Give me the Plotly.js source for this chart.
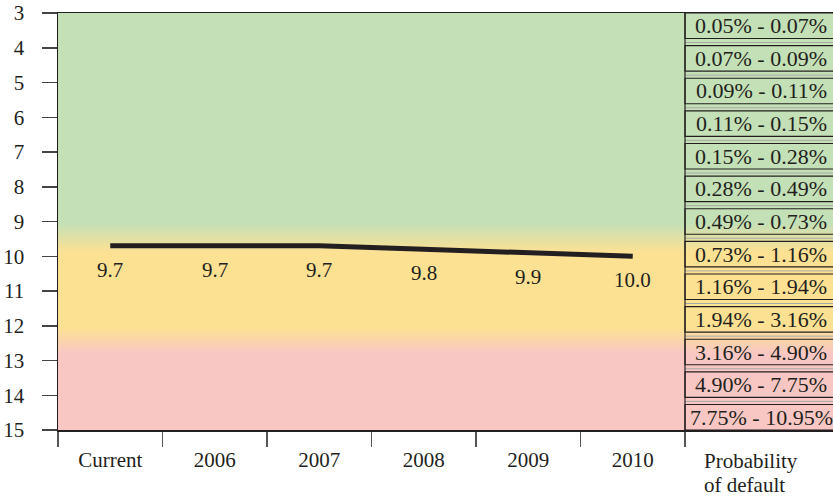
<!DOCTYPE html>
<html>
<head>
<meta charset="utf-8">
<script src="https://cdn.plot.ly/plotly-3.0.1.min.js"></script>
<style>html,body{margin:0;padding:0;background:#fff;}#chart{width:833px;height:496px;}</style>
</head>
<body>
<div id="chart"></div>
<script>
// ---- data ----
const categories = ['Current', '2006', '2007', '2008', '2009', '2010'];
const ratings = [9.7, 9.7, 9.7, 9.8, 9.9, 10.0];
const pdRanges = [
  '0.05% - 0.07%', '0.07% - 0.09%', '0.09% - 0.11%', '0.11% - 0.15%',
  '0.15% - 0.28%', '0.28% - 0.49%', '0.49% - 0.73%', '0.73% - 1.16%',
  '1.16% - 1.94%', '1.94% - 3.16%', '3.16% - 4.90%', '4.90% - 7.75%',
  '7.75% - 10.95%'
];
const pdTitle = ['Probability', 'of default'];
// background colour zones on the rating scale (band edges)
const greenEnd = 9.05, yellowStart = 9.9, yellowEnd = 12.05, pinkStart = 12.8;

// ---- style ----
const FONT = 'Liberation Serif';
const INK = '#231f20';
const GREEN = '#c4e0b7', YELLOW = '#fde193', PINK = '#f8c7c3';

const W = 833, H = 496, ML = 58, MT = 13, MB = 66;
const plotW = W - ML, plotH = H - MT - MB;
const catPx = (685 - ML) / categories.length;
const xMax = -0.5 + plotW / catPx;
const yMin = 3, yMax = 15;
const f = v => (v - yMin) / (yMax - yMin);

const bg = {
  type: 'scatter', mode: 'lines', xaxis: 'x', yaxis: 'y',
  x: [0, 1, 1, 0, 0], y: [yMin, yMin, yMax, yMax, yMin],
  fill: 'toself', line: {width: 0, color: 'rgba(0,0,0,0)'},
  fillcolor: YELLOW,
  fillgradient: {
    type: 'vertical', start: yMin, stop: yMax,
    colorscale: [[0, GREEN], [f(greenEnd), GREEN], [f(yellowStart), YELLOW],
                 [f(yellowEnd), YELLOW], [f(pinkStart), PINK], [1, PINK]]
  },
  hoverinfo: 'skip'
};

const line = {
  type: 'scatter', mode: 'lines', xaxis: 'x2', yaxis: 'y',
  x: categories, y: ratings,
  line: {color: INK, width: 5}, hoverinfo: 'skip'
};

const shapes = [];
const annotations = [];

// rating labels under the line
categories.forEach((c, i) => {
  annotations.push({
    xref: 'x2', yref: 'y', x: i, y: ratings[i], yshift: -24,
    text: ratings[i].toFixed(1), showarrow: false,
    font: {family: FONT, size: 21, color: INK}
  });
});

// probability boxes
const boxH = 25.5 / plotH;
const pitch = (1 - boxH) / (pdRanges.length - 1);
pdRanges.forEach((t, i) => {
  const top = 1 - i * pitch, bot = top - boxH;
  shapes.push({
    type: 'rect', xref: 'x2', yref: 'paper', x0: 5.5, x1: xMax + 1,
    y0: bot, y1: top, line: {color: INK, width: 1.2}, fillcolor: 'rgba(0,0,0,0)'
  });
  if (i < pdRanges.length - 1) {
    const gy = bot - 4 / plotH;
    shapes.push({
      type: 'line', xref: 'x2', yref: 'paper', x0: 5.5, x1: xMax + 1,
      y0: gy, y1: gy, line: {color: '#a8a8a8', width: 1}
    });
  }
  annotations.push({
    xref: 'paper', yref: 'paper', x: (761 - ML) / plotW, y: (top + bot) / 2,
    xanchor: 'center', yanchor: 'middle', text: t, showarrow: false,
    font: {family: FONT, size: 22, color: INK}
  });
});

// vertical separator
shapes.push({
  type: 'line', xref: 'x2', yref: 'paper', x0: 5.5, x1: 5.5, y0: 0, y1: 1,
  line: {color: INK, width: 1.2}
});

pdTitle.forEach((t, i) => {
  annotations.push({
    xref: 'paper', yref: 'paper', x: (702 - ML) / plotW,
    y: -(31 + i * 24) / plotH, xanchor: 'left', yanchor: 'middle',
    text: t, showarrow: false, font: {family: FONT, size: 21, color: INK}
  });
});

const layout = {
  width: W, height: H,
  margin: {l: ML, r: 0, t: MT, b: MB, pad: 0},
  paper_bgcolor: '#fff', plot_bgcolor: '#fff',
  showlegend: false,
  font: {family: FONT, size: 21, color: INK},
  xaxis: {range: [0, 1], visible: false, fixedrange: true},
  xaxis2: {
    type: 'category', overlaying: 'x', anchor: 'y', side: 'bottom',
    categoryorder: 'array', categoryarray: categories,
    range: [-0.5, xMax], tickson: 'boundaries',
    ticks: 'outside', ticklen: 15, tickwidth: 1.5, tickcolor: '#555',
    showline: true, linecolor: INK, linewidth: 1.5, mirror: true,
    showgrid: false, zeroline: false, ticklabelstandoff: 10,
    tickfont: {family: FONT, size: 21, color: INK}
  },
  yaxis: {
    range: [yMax, yMin], autorange: false, tick0: 3, dtick: 1,
    ticks: 'outside', ticklen: 15, tickwidth: 1.5, tickcolor: '#444',
    showline: true, linecolor: INK, linewidth: 1.5,
    showgrid: false, zeroline: false, ticklabelstandoff: 13,
    tickfont: {family: FONT, size: 21, color: INK}
  },
  shapes: shapes,
  annotations: annotations
};

Plotly.newPlot('chart', [bg, line], layout, {staticPlot: true, displayModeBar: false});
</script>
</body>
</html>
